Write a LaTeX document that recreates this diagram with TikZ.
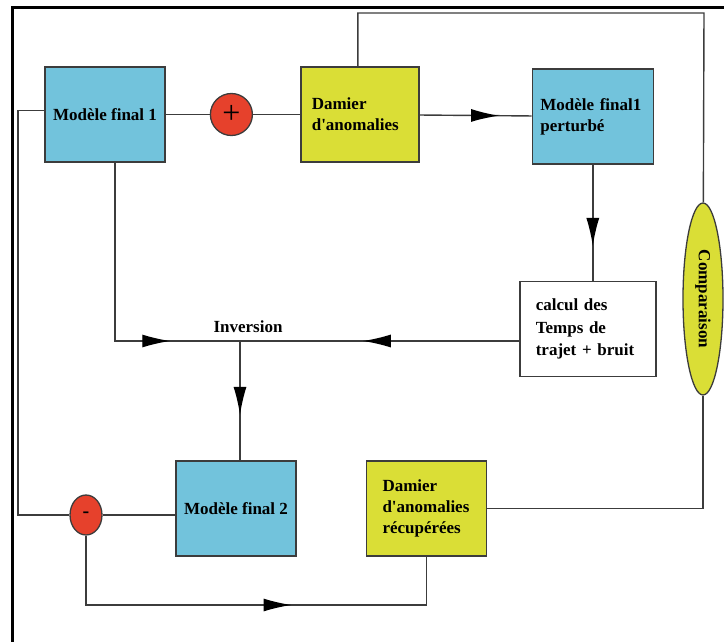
\documentclass[tikz,border=0pt]{standalone}
\usepackage{fontspec}
\setmainfont{Liberation Serif}
\usetikzlibrary{arrows.meta,positioning,shapes.geometric,decorations.markings}
\definecolor{bleu}{HTML}{72C3DC}
\definecolor{jaune}{HTML}{DADE36}
\definecolor{rouge}{HTML}{E6412C}
\definecolor{trait}{HTML}{3C3C3C}

\begin{document}
\begin{tikzpicture}[x=1pt,y=-1pt,>=Latex,
  fleche/.style={postaction={decorate},decoration={markings,mark=at position #1 with {\arrow{Latex[length=28pt,width=13pt,color=black]}}}},
  font=\fontsize{17}{21}\selectfont\bfseries]
  \tikzstyle{boite}=[draw=trait,line width=1.5pt,minimum height=95pt,inner ysep=0pt,align=left]
  \tikzstyle{lien}=[draw=trait,line width=1.4pt]
  \useasboundingbox (0,0) rectangle (724,642);
  \draw[line width=3pt,black] (12,642) -- (12,8) -- (724,8);
  % ligne du haut
  \node[boite,fill=bleu,minimum width=120pt,inner xsep=0pt,align=center] (mod1) at (105,114.5) {Modèle final 1};
  \node[circle,draw=trait,line width=1.3pt,fill=rouge,minimum size=42pt,inner sep=0pt,right=44pt of mod1] (plus) {\fontsize{32}{32}\selectfont\mdseries +};
  \node[boite,fill=jaune,text width=96pt,inner xsep=11pt,right=47pt of plus] (damier1) {Damier\\d\textquotesingle anomalies};
  \node[boite,fill=bleu,text width=105pt,inner xsep=8pt,right=112pt of damier1,yshift=-2pt] (mod1p) {Modèle final1\\perturbé};
  \node[boite,fill=white,text width=104pt,inner xsep=16pt,below=116pt of mod1p,xshift=-5pt,font=\fontsize{17}{22.5}\selectfont\bfseries] (calcul) {calcul des\\Temps de\\trajet + bruit};
  \node[ellipse,draw=trait,line width=1.3pt,fill=jaune,minimum width=40pt,minimum height=192pt,inner sep=0pt] (comparaison) at (703,299) {\rotatebox{-90}{Comparaison}};
  % ligne du bas
  \node[boite,fill=bleu,minimum width=120pt,inner xsep=0pt,align=center] (mod2) at (236,508.5) {Modèle final 2};
  \node[ellipse,draw=trait,line width=1.3pt,fill=rouge,minimum width=32pt,minimum height=40pt,inner sep=0pt] (moins) at (86,515) {\fontsize{20}{20}\selectfont -};
  \node[boite,fill=jaune,text width=88pt,inner xsep=16pt,right=69pt of mod2] (damier2) {Damier\\d\textquotesingle anomalies\\récupérées};
  \coordinate (jonction) at (240,341);
  \coordinate (gauche) at (18,515);
  \coordinate (bas) at (86,605);
  \coordinate (haut) at (704,13);
  \node (inversion) at (248,327) {Inversion};
  % liens
  \draw[lien] (mod1) -- (plus);
  \draw[lien] (plus) -- (damier1);
  \draw[lien,fleche=0.71] (damier1) -- (mod1p);
  \draw[lien,fleche=0.70] (mod1p.south) -- (mod1p.south |- calcul.north);
  \draw[lien,fleche=0.77] ([xshift=10pt]mod1.south) |- (jonction);
  \draw[lien,fleche=0.56] (calcul.west |- jonction) -- (jonction);
  \draw[lien,fleche=0.62] (jonction) -- (jonction |- mod2.north);
  \draw[lien] ([yshift=4pt]mod1.west) -| (gauche) -- (moins);
  \draw[lien] (moins) -- (moins -| mod2.west);
  \draw[lien,fleche=0.6] (moins) -- (bas) -| (damier2.south);
  \draw[lien] ([xshift=-2pt]damier1.north) |- (haut) -- (comparaison);
  \draw[lien] (damier2.east) -| (comparaison.south);
\end{tikzpicture}
\end{document}
